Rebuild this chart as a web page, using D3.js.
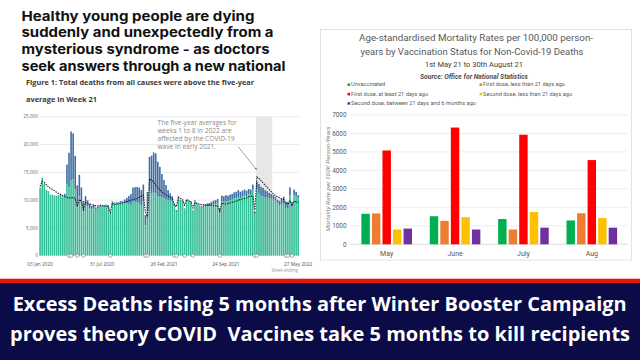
<!DOCTYPE html>
<html>
<head>
<meta charset="utf-8">
<script src="https://cdn.jsdelivr.net/npm/d3@7"></script>
<style>
  body { margin: 0; background: #fff; }
  svg { display: block; }
</style>
</head>
<body>
<svg id="chart" width="640" height="360"></svg>
<script>
// ---- left chart: weekly deaths, England and Wales (week ending 03 Jan 2020 .. 27 May 2022)
const weekTotal = [
  12254, 14058, 12990, 11856, 11612, 10986, 10944, 10841, 10816, 10895,
  11019, 10645, 11141, 16387, 18516, 22351, 21997, 17953, 12657, 14573,
  12288, 9824, 10709, 9976, 9339, 8979, 9140, 8690, 8891, 8946,
  9010, 9092, 9190, 9084, 7739, 9811, 9523, 9634, 9628, 9850,
  9805, 10119, 10400, 10737, 11099, 12254, 12337, 12372, 12264, 11812,
  12800, 7300, 11500, 17800, 18000, 18600, 18400, 16900, 16000, 14700,
  13600, 12700, 11800, 11200, 10700, 9400, 8200, 10700, 10000, 9900,
  8500, 10100, 9900, 9800, 8200, 10000, 9400, 9200, 8900, 9000,
  9200, 9400, 9500, 9700, 9900, 10000, 10200, 8500, 10800, 10700,
  10900, 10800, 11000, 11100, 11400, 11500, 11800, 11500, 11700, 11900,
  11700, 12000, 11900, 12800, 8000, 13300, 12900, 12400, 12200, 11800,
  11600, 11300, 11100, 10900, 10600, 10100, 9900, 10300, 10600, 9700,
  9700, 12300, 9700, 11900, 11500, 10900
];
const weekCovid = [
  0, 0, 0, 0, 0, 0, 0, 0, 0, 0,
  0, 100, 540, 3475, 6213, 8758, 8237, 6035, 3930, 3810,
  2589, 1822, 1588, 1114, 783, 606, 532, 366, 295, 217,
  193, 152, 139, 138, 101, 78, 99, 139, 215, 321,
  438, 670, 978, 1379, 1937, 2466, 2697, 2733, 2835, 2756,
  3000, 1800, 3500, 6000, 6800, 7200, 7100, 6200, 5400, 4200,
  3300, 2500, 1800, 1300, 900, 450, 300, 350, 280, 220,
  150, 130, 120, 110, 90, 110, 120, 150, 200, 250,
  350, 450, 550, 650, 700, 750, 800, 650, 1000, 1000,
  1050, 950, 1000, 1000, 1050, 1100, 1200, 1100, 1050, 1000,
  950, 950, 900, 900, 600, 1300, 1700, 1600, 1500, 1300,
  1100, 950, 850, 750, 700, 700, 800, 1000, 1200, 1100,
  1100, 1400, 900, 1000, 800, 600
];
const fiveYearAvg = [
  12500, 13400, 13200, 12800, 12400, 12100, 11900, 11700, 11400, 11200,
  11000, 10800, 10600, 10500, 10400, 10400, 10500, 10300, 8900, 10100,
  9800, 8300, 9600, 9400, 9300, 9200, 9100, 9000, 9000, 9100,
  9000, 9000, 8900, 8900, 7800, 9500, 9200, 9300, 9300, 9400,
  9500, 9600, 9700, 9900, 10000, 10100, 10200, 10300, 10500, 10700,
  10900, 7900, 6900, 13800, 13600, 13200, 12700, 12300, 11900, 11500,
  11200, 10900, 10700, 10500, 10300, 9200, 8800, 10400, 10300, 10100,
  9100, 10100, 9900, 9700, 8600, 9600, 9400, 9300, 9200, 9200,
  9100, 9100, 9100, 9100, 9000, 9000, 9000, 8000, 9500, 9300,
  9300, 9400, 9500, 9600, 9700, 9800, 10000, 10100, 10200, 10300,
  10400, 10600, 10700, 10800, 8200, 14200, 13900, 13500, 13100, 12700,
  12300, 11900, 11500, 11100, 10800, 10600, 10400, 10200, 10100, 9400,
  9300, 9900, 9000, 9800, 9700, 9600
];
const bankHolidayWeeks = [14, 15, 18, 21, 34, 51, 52, 65, 66, 70, 74, 87, 104, 105, 119, 120, 122];
const shadedWeeks = [105, 112];
const xTickWeeks = [0, 30, 60, 90, 125];
const xTickLabels = ["03 Jan 2020", "31 Jul 2020", "26 Feb 2021", "24 Sep 2021", "27 May 2022"];
const yTicksLeft = [0, 5000, 10000, 15000, 20000, 25000];

// ---- right chart: mortality rates by vaccination status
const months = ["May", "June", "July", "Aug"];
const statusNames = [
  "Unvaccinated",
  "First dose, less than 21 days ago",
  "First dose, at least 21 days ago",
  "Second dose, less than 21 days ago",
  "Second dose, between 21 days and 6 months ago"
];
const rateUnvaccinated = [1650, 1520, 1370, 1290];
const rateFirstUnder21 = [1670, 1270, 800, 1680];
const rateFirstOver21 = [5080, 6320, 5930, 4560];
const rateSecondUnder21 = [800, 1470, 1750, 1420];
const rateSecond21to6m = [850, 800, 900, 900];
const yTicksRight = [0, 1000, 2000, 3000, 4000, 5000, 6000, 7000];

const headline = [
  "Healthy young people are dying",
  "suddenly and unexpectedly from a",
  "mysterious syndrome - as doctors",
  "seek answers through a new national"
];
const bannerLines = [
  "Excess Deaths rising 5 months after Winter Booster Campaign",
  "proves theory COVID  Vaccines take 5 months to kill recipients"
];

const svg = d3.select("#chart");

function fit(sel, len) {
  return sel.attr("textLength", len).attr("lengthAdjust", "spacingAndGlyphs");
}

// ---------- headline + caption
const headW = [233, 252, 248, 264];
headline.forEach(function (t, i) {
  fit(svg.append("text")
    .attr("x", 21.5).attr("y", 20.7 + i * 16.6)
    .attr("font-family", "Inter, Roboto, sans-serif")
    .attr("font-weight", 700).attr("font-size", 13.2)
    .attr("fill", "#111")
    .text(t), headW[i]);
});
fit(svg.append("text").attr("x", 26).attr("y", 85)
  .attr("font-family", "'Open Sans', sans-serif").attr("font-weight", 700)
  .attr("font-size", 6.6).attr("fill", "#3a3a3a")
  .text("Figure 1: Total deaths from all causes were above the five-year"), 228);
fit(svg.append("text").attr("x", 26).attr("y", 101.8)
  .attr("font-family", "'Open Sans', sans-serif").attr("font-weight", 700)
  .attr("font-size", 6.6).attr("fill", "#3a3a3a")
  .text("average in Week 21"), 71);

// ---------- left chart
const left = svg.append("g");
const x = d3.scaleBand().domain(d3.range(weekTotal.length)).range([39.3, 299]).paddingInner(0.22);
const y = d3.scaleLinear().domain([0, 25000]).range([255.7, 116.8]);
const bw = x.bandwidth();

left.selectAll(".grid").data(yTicksLeft.filter(d => d > 0)).enter().append("line")
  .attr("x1", 38.5).attr("x2", 299.5)
  .attr("y1", d => y(d)).attr("y2", d => y(d))
  .attr("stroke", "#e2e2e2").attr("stroke-width", 0.7);

left.append("rect")
  .attr("x", x(shadedWeeks[0]))
  .attr("width", x(shadedWeeks[1]) + bw - x(shadedWeeks[0]))
  .attr("y", y(25000)).attr("height", y(0) - y(25000))
  .attr("fill", "#e7e7e7");

left.selectAll(".ytl").data(yTicksLeft).enter().append("text")
  .attr("x", 37.8).attr("y", d => y(d) + 1.6)
  .attr("text-anchor", "end")
  .attr("font-family", "'Open Sans', sans-serif").attr("font-size", 4.6)
  .attr("fill", "#666")
  .text(d => d3.format(",")(d));

const weeks = d3.range(weekTotal.length);
left.selectAll(".nc").data(weeks).enter().append("rect")
  .attr("x", i => x(i)).attr("width", bw)
  .attr("y", i => y(weekTotal[i] - weekCovid[i]))
  .attr("height", i => y(0) - y(weekTotal[i] - weekCovid[i]))
  .attr("fill", "#35be98");
left.selectAll(".cv").data(weeks).enter().append("rect")
  .attr("x", i => x(i)).attr("width", bw)
  .attr("y", i => y(weekTotal[i]))
  .attr("height", i => y(weekTotal[i] - weekCovid[i]) - y(weekTotal[i]))
  .attr("fill", "#3f6ea6");

const avgLine = d3.line().x((d, i) => x(i) + bw / 2).y(d => y(d));
left.append("path").datum(fiveYearAvg)
  .attr("d", avgLine)
  .attr("fill", "none").attr("stroke", "#1e1e1e")
  .attr("stroke-width", 1.1).attr("stroke-dasharray", "1.4,1.1");

left.selectAll(".bh").data(bankHolidayWeeks).enter().append("circle")
  .attr("cx", i => x(i) + bw / 2).attr("cy", y(0))
  .attr("r", 1.7)
  .attr("fill", "#fff").attr("stroke", "#777").attr("stroke-width", 0.6);

left.selectAll(".xtl").data(xTickWeeks).enter().append("text")
  .attr("x", (d, i) => x(d) + bw / 2).attr("y", 266)
  .attr("text-anchor", "middle")
  .attr("font-family", "'Open Sans', sans-serif").attr("font-size", 4.8)
  .attr("fill", "#555")
  .text((d, i) => xTickLabels[i]);
left.append("text").attr("x", 298).attr("y", 272.4)
  .attr("text-anchor", "end")
  .attr("font-family", "'Open Sans', sans-serif").attr("font-size", 4.4)
  .attr("fill", "#999").text("Week ending");

const note = ["The five-year averages for", "weeks 1 to 8 in 2022 are",
  "affected by the COVID-19", "wave in early 2021."];
note.forEach(function (t, i) {
  left.append("text").attr("x", 157.5).attr("y", 124.5 + i * 8.3)
    .attr("font-family", "'Open Sans', sans-serif").attr("font-size", 6.6)
    .attr("fill", "#8a8a8a").text(t);
});
svg.append("defs").append("marker")
  .attr("id", "arr").attr("viewBox", "0 0 6 6").attr("refX", 5).attr("refY", 3)
  .attr("markerWidth", 4).attr("markerHeight", 4).attr("orient", "auto")
  .append("path").attr("d", "M0,0L6,3L0,6z").attr("fill", "#555");
left.append("line")
  .attr("x1", 238).attr("y1", 146.5).attr("x2", 256.5).attr("y2", 169.5)
  .attr("stroke", "#666").attr("stroke-width", 0.6)
  .attr("marker-end", "url(#arr)");

// ---------- right chart
const right = svg.append("g");
right.append("rect").attr("x", 320.5).attr("y", 29.5).attr("width", 311).attr("height", 230.5)
  .attr("fill", "#fff").attr("stroke", "#dcdcdc").attr("stroke-width", 0.8);

const titleFont = "Roboto, 'Open Sans', sans-serif";
fit(right.append("text").attr("x", 476).attr("y", 40.7).attr("text-anchor", "middle")
  .attr("font-family", titleFont).attr("font-size", 9.6).attr("fill", "#595959")
  .text("Age-standardised Mortality Rates per 100,000 person-"), 234);
fit(right.append("text").attr("x", 472).attr("y", 55.3).attr("text-anchor", "middle")
  .attr("font-family", titleFont).attr("font-size", 9.6).attr("fill", "#595959")
  .text("years by Vaccination Status for Non-Covid-19 Deaths"), 223);
fit(right.append("text").attr("x", 474).attr("y", 67.3).attr("text-anchor", "middle")
  .attr("font-family", titleFont).attr("font-size", 7.4).attr("fill", "#404040")
  .text("1st May 21 to 30th August 21"), 98);
fit(right.append("text").attr("x", 474).attr("y", 78.7).attr("text-anchor", "middle")
  .attr("font-family", titleFont).attr("font-size", 6.6).attr("font-style", "italic")
  .attr("font-weight", 700).attr("fill", "#505050")
  .text("Source: Office for National Statistics"), 108);

const statusColors = ["#00b050", "#ed7d31", "#ff0000", "#ffc000", "#7030a0"];
const legendPos = [[347.5, 86.3], [479.5, 86.3], [347.5, 95.7], [479.5, 95.7], [347.5, 105]];
const legendW = [34, 82, 77, 89, 125];
statusNames.forEach(function (n, i) {
  const p = legendPos[i];
  right.append("rect").attr("x", p[0]).attr("y", p[1] - 2.9).attr("width", 2.6).attr("height", 2.6)
    .attr("fill", statusColors[i]);
  fit(right.append("text").attr("x", p[0] + 3.6).attr("y", p[1])
    .attr("font-family", titleFont).attr("font-size", 5.4).attr("fill", "#595959")
    .text(n), legendW[i]);
});

const xr = d3.scaleBand().domain(months).range([352.5, 626]).paddingInner(0.26).paddingOuter(0.13);
const xs = d3.scaleBand().domain(d3.range(statusNames.length)).range([0, xr.bandwidth()]).paddingInner(0.2);
const yr = d3.scaleLinear().domain([0, 7000]).range([244.3, 115]);

right.selectAll(".rg").data(yTicksRight).enter().append("line")
  .attr("x1", 350).attr("x2", 628)
  .attr("y1", d => yr(d)).attr("y2", d => yr(d))
  .attr("stroke", d => d === 0 ? "#cfcfcf" : "#e6e6e6").attr("stroke-width", 0.7);
right.selectAll(".ryt").data(yTicksRight).enter().append("text")
  .attr("x", 346.5).attr("y", d => yr(d) + 2.2).attr("text-anchor", "end")
  .attr("font-family", titleFont).attr("font-size", 6.4).attr("fill", "#595959")
  .text(d => d);

const rateTable = months.map((m, j) => ({
  month: m,
  values: [rateUnvaccinated[j], rateFirstUnder21[j], rateFirstOver21[j], rateSecondUnder21[j], rateSecond21to6m[j]]
}));
const grp = right.selectAll(".mg").data(rateTable).enter().append("g")
  .attr("transform", d => `translate(${xr(d.month)},0)`);
grp.selectAll("rect").data(d => d.values).enter().append("rect")
  .attr("x", (d, i) => xs(i)).attr("width", xs.bandwidth())
  .attr("y", d => yr(d)).attr("height", d => yr(0) - yr(d))
  .attr("fill", (d, i) => statusColors[i]);

right.selectAll(".rxl").data(months).enter().append("text")
  .attr("x", d => xr(d) + xr.bandwidth() / 2).attr("y", 255.7).attr("text-anchor", "middle")
  .attr("font-family", titleFont).attr("font-size", 7).attr("fill", "#595959")
  .text(d => d);

fit(right.append("text")
  .attr("transform", "translate(330.3,179) rotate(-90)")
  .attr("text-anchor", "middle")
  .attr("font-family", titleFont).attr("font-size", 6.2).attr("font-style", "italic")
  .attr("fill", "#7f7f7f")
  .text("Mortality Rate per 100K Person-Years"), 105);

// ---------- bottom banner
svg.append("rect").attr("x", 0).attr("y", 278.7).attr("width", 640).attr("height", 4.5).attr("fill", "#e3140f");
svg.append("rect").attr("x", 0).attr("y", 283).attr("width", 640).attr("height", 77).attr("fill", "#0b0b47");
const bannerX = [12.7, 10];
const bannerW = [614, 620];
bannerLines.forEach(function (t, i) {
  fit(svg.append("text")
    .attr("x", bannerX[i]).attr("y", 311.3 + i * 30)
    .attr("font-family", "'Open Sans', sans-serif").attr("font-weight", 700)
    .attr("font-size", 19.5).attr("fill", "#fff")
    .style("white-space", "pre")
    .text(t), bannerW[i]);
});
</script>
</body>
</html>
